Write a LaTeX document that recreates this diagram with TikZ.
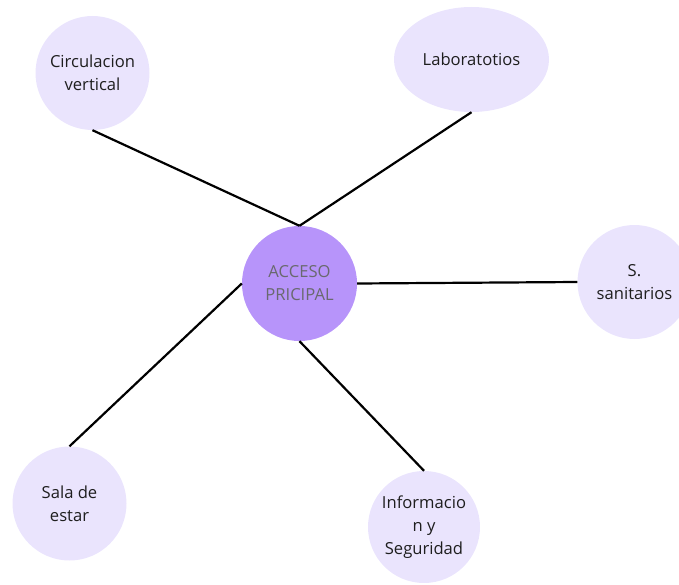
\documentclass[tikz,border=0pt]{standalone}
\usepackage{fontspec}
\setmainfont{Open Sans}
\usetikzlibrary{shapes.geometric}
\definecolor{acceso}{RGB}{183,148,250}
\definecolor{area}{RGB}{234,228,253}
\definecolor{accesotext}{RGB}{105,105,110}
\definecolor{areatext}{RGB}{30,30,30}

\begin{document}
\begin{tikzpicture}[
  x=1pt, y=-1pt,
  % node looks
  every node/.style={font=\fontsize{16.6}{23}\selectfont, align=center, inner sep=0pt},
  hub/.style={
    circle,
    fill=acceso,
    minimum size=115pt,
    text=accesotext
  },
  room/.style={
    circle,
    fill=area,
    minimum size=114pt,
    text=areatext
  },
  link/.style={
    draw=black,
    line width=2.2pt
  }
]

\clip (0,0) rectangle (679,585);

% Centre
\node[hub] (acc) at (299.5,283.5) {ACCESO\\PRICIPAL};

% Surrounding areas
\node[room] (circ) at (92.5,73) {Circulacion\\vertical};
\node[room, ellipse, minimum width=155pt, minimum height=105pt] (lab) at (471.5,59.5) {Laboratotios};
\node[room] (san) at (634.5,282) {S.\\sanitarios};
\node[room] (sala) at (69.5,503.5) {Sala de\\estar};
\node[room, minimum size=112pt] (info) at (424,527) {Informacio\\n y\\Seguridad};

% Connections
\draw[link] (acc.north) -- (circ.south);
\draw[link] (acc.north) -- (lab.south);
\draw[link] (acc.east) -- (san.west);
\draw[link] (acc.west) -- (sala.north);
\draw[link] (acc.south) -- (info.north);

\end{tikzpicture}
\end{document}
